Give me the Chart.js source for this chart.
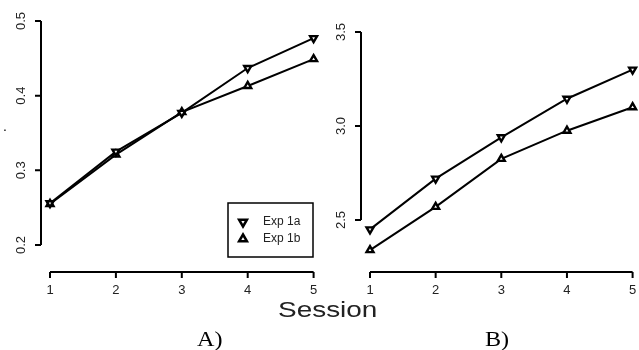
<!DOCTYPE html>
<html>
<head>
<meta charset="utf-8">
<script src="https://cdn.jsdelivr.net/npm/chart.js@4"></script>
<style>
  body { margin: 0; background: #fff; }
  #wrap { position: relative; width: 639px; height: 350px; overflow: hidden; }
  .panel { position: absolute; top: 0; height: 350px; }
  .txt { position: absolute; color: #000; white-space: nowrap; transform-origin: left top; }
  #session { left: 278px; top: 297px; font: 22px "Liberation Sans", Arial, sans-serif; color: #222; transform: scaleX(1.27); }
  .lab { top: 327px; font: 21px "Liberation Serif", "Times New Roman", serif; transform: scaleX(1.15); }
</style>
</head>
<body>
<div id="wrap">
  <div class="panel" style="left:0;width:320px"><canvas id="chartA"></canvas></div>
  <div class="panel" style="left:320px;width:319px"><canvas id="chartB"></canvas></div>
  <div class="txt" id="session">Session</div>
  <div class="txt lab" style="left:197px">A)</div>
  <div class="txt lab" style="left:485px">B)</div>
  <div class="txt" style="left:3px;top:118px;font:14px 'Liberation Sans',Arial,sans-serif">.</div>
</div>
<script>
const sessions = [1, 2, 3, 4, 5];
const seriesNames = ['Exp 1a', 'Exp 1b'];

// panel A
const exp1aA = [0.256, 0.325, 0.377, 0.437, 0.477];
const exp1bA = [0.255, 0.321, 0.378, 0.413, 0.449];
const yTicksA = ['0.2', '0.3', '0.4', '0.5'];

// panel B
const exp1aB = [2.45, 2.72, 2.94, 3.145, 3.30];
const exp1bB = [2.34, 2.57, 2.825, 2.975, 3.10];
const yTicksB = ['2.5', '3.0', '3.5'];

const tickFont = '13px "Liberation Sans", Arial, sans-serif';

function triangle(ctx, cx, cy, r, down) {
  const s = down ? -1 : 1;
  ctx.beginPath();
  ctx.moveTo(cx, cy - s * r);
  ctx.lineTo(cx + r * 0.87, cy + s * r * 0.5);
  ctx.lineTo(cx - r * 0.87, cy + s * r * 0.5);
  ctx.closePath();
  ctx.fillStyle = '#fff';
  ctx.fill();
  ctx.stroke();
}

// R style detached axes
const rAxes = {
  id: 'rAxes',
  afterDraw(chart, args, opts) {
    const ctx = chart.ctx;
    const x = chart.scales.x, y = chart.scales.y;
    const area = chart.chartArea;
    ctx.save();
    ctx.strokeStyle = '#000';
    ctx.lineWidth = 2;
    ctx.fillStyle = '#222';
    ctx.font = tickFont;

    // y axis
    const ax = area.left - 9;
    const yt = opts.yTicks.map(Number);
    ctx.beginPath();
    ctx.moveTo(ax, y.getPixelForValue(yt[0]));
    ctx.lineTo(ax, y.getPixelForValue(yt[yt.length - 1]));
    yt.forEach(v => {
      const py = y.getPixelForValue(v);
      ctx.moveTo(ax, py);
      ctx.lineTo(ax - 6, py);
    });
    ctx.stroke();
    ctx.textAlign = 'center';
    ctx.textBaseline = 'middle';
    opts.yTicks.forEach(t => {
      ctx.save();
      ctx.translate(ax - 20, y.getPixelForValue(Number(t)));
      ctx.rotate(-Math.PI / 2);
      ctx.fillText(t, 0, 0);
      ctx.restore();
    });

    // x axis
    const ay = area.bottom + opts.xGap;
    ctx.beginPath();
    ctx.moveTo(x.getPixelForValue(sessions[0]), ay);
    ctx.lineTo(x.getPixelForValue(sessions[sessions.length - 1]), ay);
    sessions.forEach(v => {
      const px = x.getPixelForValue(v);
      ctx.moveTo(px, ay);
      ctx.lineTo(px, ay + 6);
    });
    ctx.stroke();
    ctx.textBaseline = 'top';
    sessions.forEach(v => ctx.fillText(String(v), x.getPixelForValue(v), ay + 12));

    // legend box
    if (opts.legend) {
      const b = opts.legend;
      ctx.lineWidth = 1.5;
      ctx.strokeRect(b.x, b.y, b.w, b.h);
      ctx.textAlign = 'left';
      ctx.textBaseline = 'middle';
      ctx.font = '12px "Liberation Sans", Arial, sans-serif';
      chart.data.datasets.forEach((ds, i) => {
        const ly = b.y + 19 + i * 17;
        ctx.lineWidth = 2.5;
        triangle(ctx, b.x + 15, ly, 4.5, i === 0);
        ctx.fillStyle = '#222';
        ctx.fillText(ds.label, b.x + 35, ly);
      });
    }
    ctx.restore();
  }
};

function makeChart(id, a, b, ymin, ymax, pad, yTicks, xGap, legend) {
  const ds = (label, data, rot) => ({
    label: label,
    data: data,
    borderColor: '#000',
    borderWidth: 2,
    pointStyle: 'triangle',
    rotation: rot,
    pointRadius: 4,
    pointBorderWidth: 2.4,
    pointBackgroundColor: '#fff',
    pointBorderColor: '#000',
    tension: 0,
    clip: false
  });
  return new Chart(document.getElementById(id), {
    type: 'line',
    data: {
      labels: sessions,
      datasets: [ds(seriesNames[0], a, 180), ds(seriesNames[1], b, 0)]
    },
    options: {
      responsive: true,
      maintainAspectRatio: false,
      animation: false,
      layout: { padding: pad },
      scales: {
        x: { type: 'linear', min: 1, max: 5, display: false },
        y: { min: ymin, max: ymax, display: false }
      },
      plugins: {
        legend: { display: false },
        tooltip: { enabled: false },
        rAxes: { yTicks: yTicks, xGap: xGap, legend: legend }
      }
    },
    plugins: [rAxes]
  });
}

makeChart('chartA', exp1aA, exp1bA, 0.2, 0.5,
  { left: 50, right: 5, top: 21, bottom: 105 }, yTicksA, 27,
  { x: 228, y: 203, w: 85, h: 54 });
makeChart('chartB', exp1aB, exp1bB, 2.25, 3.5,
  { left: 50, right: 4, top: 32, bottom: 83 }, yTicksB, 5, null);
</script>
</body>
</html>
